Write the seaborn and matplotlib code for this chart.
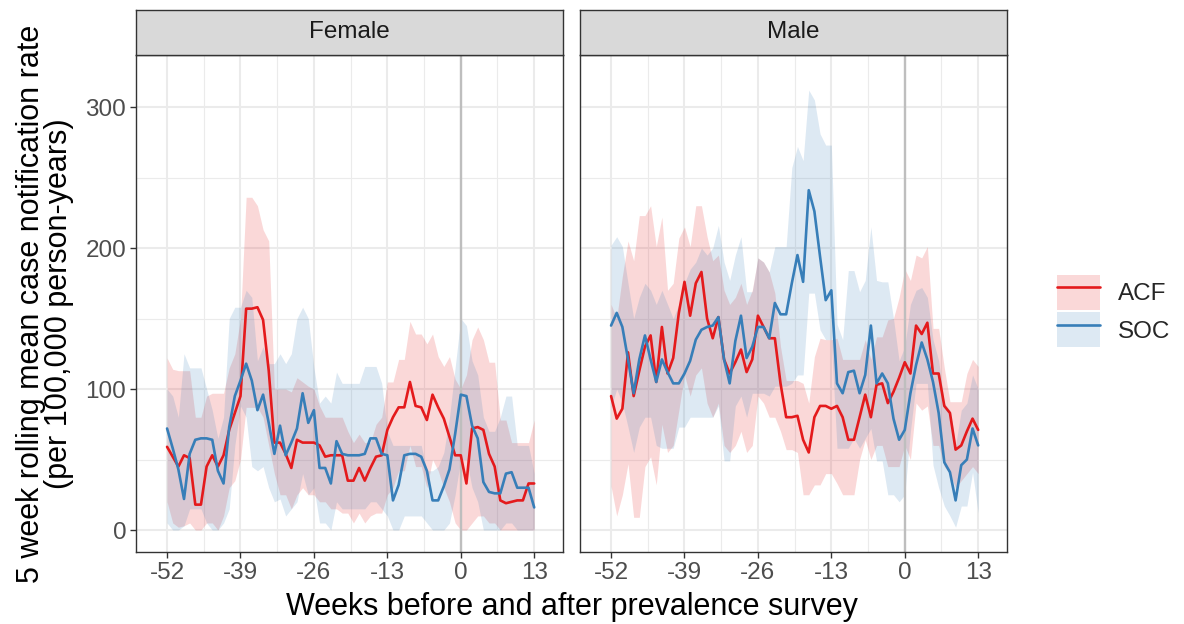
import numpy as np
import pandas as pd
import matplotlib
matplotlib.use("Agg")
import matplotlib.pyplot as plt
import seaborn as sns
from matplotlib.patches import Patch
from matplotlib.lines import Line2D

# Weeks relative to the prevalence survey
weeks = list(range(-52, 14))

# Female, ACF arm: rolling mean and uncertainty band
female_acf = [59, 52, 45, 53, 51, 18, 18, 45, 53, 45, 53, 71, 83,
              95, 157, 157, 158, 149, 113, 62, 62, 54, 44, 64, 62, 62,
              62, 60, 52, 53, 53, 53, 35, 35, 44, 35, 44, 52, 53,
              71, 80, 87, 87, 105, 88, 87, 78, 96, 87, 79, 66, 53,
              53, 33, 72, 73, 71, 54, 45, 21, 19, 20, 21, 21, 33, 33]
female_acf_lo = [20, 5, 2, 3, 5, 0, 0, 5, 5, 0, 10, 30, 35,
                 50, 87, 87, 87, 80, 60, 40, 25, 25, 15, 25, 30, 25,
                 25, 20, 20, 15, 15, 12, 12, 5, 12, 5, 10, 12, 12,
                 25, 30, 42, 42, 60, 45, 45, 30, 50, 42, 30, 20, 5,
                 0, 0, 5, 10, 10, 5, 5, 0, 0, 0, 0, 0, 0, 0]
female_acf_hi = [122, 114, 113, 113, 113, 80, 80, 95, 97, 97, 97, 115, 125,
                 150, 236, 236, 230, 213, 205, 100, 100, 100, 98, 108, 105, 102,
                 100, 88, 80, 80, 80, 80, 70, 62, 68, 62, 62, 75, 80,
                 105, 105, 121, 121, 148, 139, 139, 132, 139, 123, 116, 123, 107,
                 100, 110, 135, 144, 135, 119, 119, 78, 78, 62, 62, 62, 62, 78]

# Female, SOC arm
female_soc = [72, 58, 43, 22, 54, 64, 65, 65, 64, 42, 33, 73, 95,
              106, 118, 106, 85, 96, 76, 54, 74, 53, 62, 72, 97, 76,
              85, 44, 44, 33, 63, 54, 53, 53, 53, 54, 65, 65, 54,
              53, 21, 32, 53, 54, 54, 52, 42, 21, 21, 31, 43, 68,
              96, 95, 74, 65, 34, 27, 26, 26, 40, 41, 30, 30, 30, 16]
female_soc_lo = [5, 0, 0, 3, 15, 15, 15, 5, 0, 0, 5, 15, 60,
                 88, 80, 45, 42, 45, 30, 20, 22, 10, 15, 20, 40, 25,
                 30, 5, 5, 0, 20, 15, 15, 15, 15, 15, 20, 20, 15,
                 10, 0, 0, 10, 10, 10, 10, 5, 0, 0, 0, 5, 25,
                 50, 50, 30, 20, 0, 0, 0, 0, 5, 5, 0, 0, 0, 0]
female_soc_hi = [100, 95, 80, 125, 115, 115, 115, 100, 85, 65, 80, 150, 158,
                 158, 170, 165, 120, 130, 118, 118, 125, 118, 125, 150, 158, 150,
                 115, 90, 95, 90, 112, 104, 104, 104, 104, 116, 116, 116, 104,
                 70, 60, 60, 60, 60, 60, 60, 42, 42, 45, 55, 80, 115,
                 150, 145, 120, 110, 80, 70, 70, 80, 95, 95, 60, 60, 60, 40]

# Male, ACF arm
male_acf = [95, 79, 86, 126, 95, 113, 130, 138, 105, 144, 111, 122, 154,
            176, 152, 175, 183, 150, 136, 151, 121, 111, 119, 128, 112, 121,
            152, 144, 136, 136, 104, 80, 80, 81, 64, 55, 80, 88, 88,
            86, 88, 80, 64, 64, 80, 96, 80, 103, 104, 90, 98, 108,
            119, 111, 145, 139, 147, 111, 111, 88, 83, 57, 60, 70, 79, 71]
male_acf_lo = [31, 10, 25, 47, 9, 9, 45, 52, 32, 75, 55, 60, 85,
               110, 95, 110, 115, 90, 80, 90, 60, 55, 60, 70, 55, 60,
               95, 90, 80, 80, 70, 57, 57, 55, 25, 25, 32, 32, 40,
               40, 33, 25, 25, 25, 50, 64, 50, 60, 60, 45, 45, 45,
               60, 50, 90, 85, 88, 60, 60, 45, 40, 30, 35, 40, 45, 40]
male_acf_hi = [160, 150, 180, 205, 191, 223, 223, 230, 201, 222, 170, 175, 207,
               215, 201, 230, 230, 208, 191, 195, 170, 160, 165, 175, 160, 170,
               193, 190, 183, 168, 130, 106, 106, 106, 104, 90, 123, 136, 135,
               135, 136, 121, 121, 121, 121, 135, 121, 137, 137, 149, 150, 165,
               185, 177, 195, 193, 201, 143, 143, 115, 91, 91, 91, 111, 121, 116]

# Male, SOC arm
male_soc = [145, 154, 144, 121, 97, 121, 138, 121, 105, 121, 112, 104, 104,
            111, 120, 135, 142, 144, 145, 151, 121, 104, 134, 152, 122, 130,
            144, 144, 136, 161, 153, 153, 175, 195, 176, 241, 226, 194, 163,
            170, 104, 97, 112, 113, 97, 110, 145, 104, 111, 104, 79, 64,
            71, 97, 117, 133, 121, 105, 83, 48, 41, 21, 46, 50, 72, 60]
male_soc_lo = [87, 100, 90, 73, 55, 73, 80, 80, 60, 58, 58, 58, 73,
               73, 80, 80, 80, 80, 80, 88, 49, 49, 88, 95, 80, 97,
               97, 97, 95, 102, 102, 102, 104, 110, 110, 168, 168, 142, 135,
               135, 58, 58, 58, 65, 58, 65, 72, 49, 49, 25, 25, 20,
               25, 70, 104, 104, 104, 46, 30, 17, 10, 2, 17, 17, 41, 12]
male_soc_hi = [202, 208, 201, 175, 150, 165, 175, 170, 160, 170, 160, 150, 160,
               175, 185, 190, 200, 195, 200, 216, 190, 177, 195, 208, 169, 169,
               193, 190, 183, 201, 201, 201, 257, 272, 262, 312, 305, 281, 273,
               273, 146, 135, 184, 184, 169, 177, 215, 177, 176, 176, 150, 120,
               130, 160, 170, 172, 165, 135, 120, 90, 85, 60, 85, 90, 110, 100]

panels = ["Female", "Male"]
groups = ["ACF", "SOC"]
x_breaks = [-52, -39, -26, -13, 0, 13]
y_breaks = [0, 100, 200, 300]

series = {
    ("Female", "ACF"): (female_acf, female_acf_lo, female_acf_hi),
    ("Female", "SOC"): (female_soc, female_soc_lo, female_soc_hi),
    ("Male", "ACF"): (male_acf, male_acf_lo, male_acf_hi),
    ("Male", "SOC"): (male_soc, male_soc_lo, male_soc_hi),
}
frames = []
for (sex, grp), (mid, lo, hi) in series.items():
    frames.append(pd.DataFrame({"week": weeks, "sex": sex, "group": grp,
                                "rate": mid, "lo": lo, "hi": hi}))
df = pd.concat(frames, ignore_index=True)

palette = {"ACF": "#E41A1C", "SOC": "#377EB8"}

sns.set_theme(style="whitegrid")
plt.rcParams["font.family"] = ["Liberation Sans", "DejaVu Sans"]
plt.rcParams["axes.unicode_minus"] = False

SMALL = 17.5
TITLE = 22

W, H = 1184, 624
fig = plt.figure(figsize=(W / 100, H / 100), dpi=100)

panel_px = {"Female": (136, 563), "Male": (580, 1007)}
top_px, bottom_px, strip_top_px = 55, 552, 10
border = "#333333"

for sex in panels:
    x0, x1 = panel_px[sex]
    ax = fig.add_axes([x0 / W, 1 - bottom_px / H, (x1 - x0) / W,
                       (bottom_px - top_px) / H])
    ax.set_facecolor("white")
    sub = df[df["sex"] == sex]
    for grp in groups:
        g = sub[sub["group"] == grp]
        ax.fill_between(g["week"], g["lo"], g["hi"], color=palette[grp],
                        alpha=0.17, linewidth=0, zorder=2)
    ax.axvline(0, color="#BEBEBE", lw=1.7, zorder=2.5)
    sns.lineplot(data=sub, x="week", y="rate", hue="group", hue_order=groups,
                 palette=palette, linewidth=1.9, legend=False, ax=ax, zorder=3)

    ax.set_xlim(-57.5, 18.1)
    ax.set_ylim(-15.6, 336.9)
    ax.set_xticks(x_breaks)
    ax.set_xticks([-45.5, -32.5, -19.5, -6.5, 6.5], minor=True)
    ax.set_yticks(y_breaks)
    ax.set_yticks([50, 150, 250], minor=True)
    ax.set_xticklabels([str(v) for v in x_breaks])
    ax.set_yticklabels([str(v) for v in y_breaks])
    ax.grid(which="major", color="#EBEBEB", lw=1.5, zorder=0)
    ax.grid(which="minor", color="#EBEBEB", lw=0.8, zorder=0)
    ax.set_axisbelow(True)
    ax.tick_params(which="major", length=4, width=1, color=border,
                   labelsize=SMALL, labelcolor="#4D4D4D", pad=3,
                   bottom=True, left=True)
    ax.tick_params(which="minor", length=0)
    for s in ax.spines.values():
        s.set_color(border)
        s.set_linewidth(1.0)
    ax.set_xlabel("")
    ax.set_ylabel("")
    if sex != "Female":
        ax.tick_params(axis="y", left=False, labelleft=False)

    # facet strip
    sax = fig.add_axes([x0 / W, 1 - top_px / H, (x1 - x0) / W,
                        (top_px - strip_top_px) / H])
    sax.set_facecolor("#D9D9D9")
    sax.set_xticks([])
    sax.set_yticks([])
    sax.grid(False)
    for s in sax.spines.values():
        s.set_color(border)
        s.set_linewidth(1.0)
    sax.text(0.5, 0.5, sex, ha="center", va="center", fontsize=SMALL,
             color="#1A1A1A", transform=sax.transAxes)

fig.text(45 / W, 1 - 303.5 / H,
         "5 week rolling mean case notification rate\n(per 100,000 person-years)",
         rotation=90, ha="center", va="center", fontsize=TITLE, color="black",
         linespacing=0.95)
fig.text((136 + 1007) / 2 / W, 1 - 607 / H,
         "Weeks before and after prevalence survey",
         ha="center", va="center", fontsize=TITLE, color="black")

handles = [(Patch(facecolor=palette[g], alpha=0.17, linewidth=0),
            Line2D([], [], color=palette[g], lw=1.9)) for g in groups]
fig.legend(handles, groups, loc="center left",
           bbox_to_anchor=(1057 / W, 1 - 311 / H), frameon=False,
           handlelength=1.77, handleheight=1.85, fontsize=SMALL,
           labelspacing=0.1, handletextpad=0.75, borderpad=0,
           borderaxespad=0)

fig.savefig("out.png", dpi=100)
